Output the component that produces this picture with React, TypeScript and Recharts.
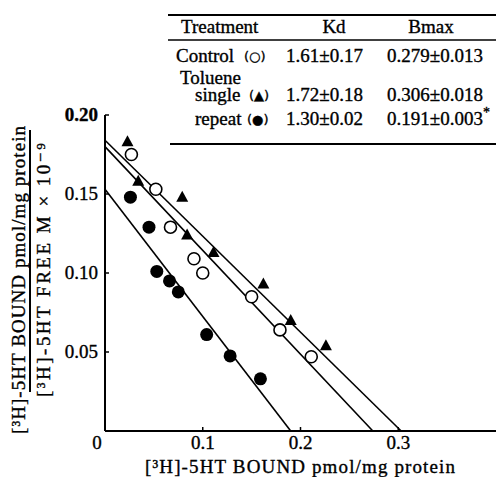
import React from "react";
import { ReferenceLine, Scatter, ScatterChart, XAxis, YAxis } from "recharts";

// control (open circles)
const controlX = [0.027, 0.052, 0.067, 0.091, 0.1, 0.15, 0.179, 0.211];
const controlY = [0.175, 0.153, 0.129, 0.109, 0.1, 0.085, 0.064, 0.047];
// toluene single (triangles)
const singleX = [0.023, 0.034, 0.079, 0.084, 0.111, 0.162, 0.19, 0.226];
const singleY = [0.183, 0.158, 0.148, 0.124, 0.113, 0.093, 0.07, 0.054];
// toluene repeat (filled circles)
const repeatX = [0.026, 0.045, 0.053, 0.066, 0.075, 0.104, 0.128, 0.159];
const repeatY = [0.148, 0.129, 0.101, 0.095, 0.088, 0.061, 0.0475, 0.033];

// regression lines: y at x=0 and x at y=0
const fitNames = ["control", "single", "repeat"];
const fitYIntercept = [0.18, 0.184, 0.153];
const fitXIntercept = [0.274, 0.303, 0.19];

const xTicks = [0, 0.1, 0.2, 0.3];
const yTicks = [0.05, 0.1, 0.15, 0.2];

const tableHeader = ["Treatment", "Kd", "Bmax"];
const tableKd = ["1.61±0.17", "1.72±0.18", "1.30±0.02"];
const tableBmax = ["0.279±0.013", "0.306±0.018", "0.191±0.003"];
const tableSymbols = ["○", "▲", "●"];

const W = 496;
const H = 477;
const FONT = "'Liberation Serif', 'DejaVu Serif', serif";
const SYMFONT = "'DejaVu Sans', sans-serif";

const toPoints = (xs: number[], ys: number[]) => xs.map((x, i) => ({ x, y: ys[i] }));

const OpenCircle = (p: any) => (
  <circle cx={p.cx} cy={p.cy} r={6} fill="#fff" stroke="#000" strokeWidth={1.6} />
);
const FilledCircle = (p: any) => <circle cx={p.cx} cy={p.cy} r={6.5} fill="#000" />;
const Triangle = (p: any) => (
  <path
    d={`M${p.cx},${p.cy - 6.5} L${p.cx + 6},${p.cy + 4.5} L${p.cx - 6},${p.cy + 4.5} Z`}
    fill="#000"
  />
);

const ink = { fill: "#000", stroke: "#000", strokeWidth: 0.35 };

const XTick = (props: any) => {
  const { x, y, payload } = props;
  const v = payload.value;
  return (
    <g>
      {v !== 0 && <line x1={x} x2={x} y1={y} y2={y - 4} stroke="#000" strokeWidth={1.5} />}
      <text
        x={v === 0 ? x - 8 : x}
        y={y + 18}
        textAnchor="middle"
        fontFamily={FONT}
        fontSize={19}
        {...ink}
      >
        {v === 0 ? "0" : v.toFixed(1)}
      </text>
    </g>
  );
};

const YTick = (props: any) => {
  const { x, y, payload } = props;
  return (
    <g>
      <line x1={x} x2={x + 4} y1={y} y2={y} stroke="#000" strokeWidth={1.5} />
      <text
        x={x - 7}
        y={y + 6}
        textAnchor="end"
        fontFamily={FONT}
        fontSize={19}
        fontWeight={payload.value === 0.2 ? "bold" : "normal"}
        {...ink}
      >
        {payload.value.toFixed(2)}
      </text>
    </g>
  );
};

function Overlay() {
  const t = { fontFamily: FONT, fontSize: 19, ...ink };
  const rowY = [62, 101, 125];
  const symX = [244, 249, 247];
  return (
    <svg
      width={W}
      height={H}
      style={{ position: "absolute", left: 0, top: 0, pointerEvents: "none" }}
    >
      {/* table */}
      <line x1={168} x2={496} y1={15} y2={15} stroke="#000" strokeWidth={2} />
      <text x={181} y={33} {...t}>{tableHeader[0]}</text>
      <text x={334} y={33} textAnchor="middle" {...t}>{tableHeader[1]}</text>
      <text x={431} y={33} textAnchor="middle" {...t}>{tableHeader[2]}</text>
      <line x1={168} x2={496} y1={40} y2={40} stroke="#000" strokeWidth={1.5} />

      <text x={176} y={rowY[0]} {...t}>Control</text>
      <text x={180} y={84} {...t}>
        Toluene
        <tspan x={195} dy={17}>single</tspan>
      </text>
      <text x={195} y={rowY[2]} {...t}>repeat</text>
      {tableSymbols.map((s, i) => (
        <text key={"sym" + i} x={symX[i]} y={rowY[i] - 1} fontFamily={SYMFONT} fontSize={13} {...ink}>
          ({s})
        </text>
      ))}

      {tableKd.map((s, i) => (
        <text key={"kd" + i} x={286} y={rowY[i]} {...t}>{s}</text>
      ))}
      {tableBmax.map((s, i) => (
        <text key={"bm" + i} x={387} y={rowY[i]} {...t}>
          {s}
          {i === 2 && (
            <tspan dy={-8} fontSize={14}>
              *
            </tspan>
          )}
        </text>
      ))}
      <line x1={170} x2={496} y1={144} y2={144} stroke="#000" strokeWidth={2} />

      {/* y axis label as a fraction */}
      <text
        transform="translate(18,280) rotate(-90)"
        textAnchor="middle"
        dominantBaseline="central"
        textLength={308}
        lengthAdjust="spacing"
        {...t}
      >
        [³H]-5HT BOUND pmol/mg protein
      </text>
      <line x1={30} x2={30} y1={130} y2={392} stroke="#000" strokeWidth={2} />
      <text
        transform="translate(43,270) rotate(-90)"
        textAnchor="middle"
        dominantBaseline="central"
        textLength={254}
        lengthAdjust="spacing"
        {...t}
      >
        [³H]-5HT FREE M × 10⁻⁹
      </text>

      {/* x axis label */}
      <text
        x={300}
        y={473}
        textAnchor="middle"
        textLength={310}
        lengthAdjust="spacing"
        {...t}
      >
        [³H]-5HT BOUND pmol/mg protein
      </text>
    </svg>
  );
}

export default function App() {
  return (
    <div style={{ position: "absolute", left: 0, top: 0, width: W, height: H, background: "#fff" }}>
      <ScatterChart width={W} height={H} margin={{ top: 115, right: 0, bottom: 0, left: 0 }}>
        <XAxis
          type="number"
          dataKey="x"
          domain={[0, 0.4]}
          ticks={xTicks}
          interval={0}
          height={46}
          tickSize={0}
          tickMargin={0}
          tickLine={false}
          axisLine={{ stroke: "#000", strokeWidth: 2 }}
          tick={<XTick />}
        />
        <YAxis
          type="number"
          dataKey="y"
          domain={[0, 0.2]}
          ticks={yTicks}
          interval={0}
          width={105}
          tickSize={0}
          tickMargin={0}
          tickLine={false}
          axisLine={{ stroke: "#000", strokeWidth: 2 }}
          tick={<YTick />}
        />
        {fitNames.map((n, i) => (
          <ReferenceLine
            key={n}
            segment={[
              { x: 0, y: fitYIntercept[i] },
              { x: fitXIntercept[i], y: 0 },
            ]}
            stroke="#000"
            strokeWidth={1.6}
          />
        ))}
        <Scatter
          name="control"
          data={toPoints(controlX, controlY)}
          shape={OpenCircle}
          isAnimationActive={false}
        />
        <Scatter
          name="single"
          data={toPoints(singleX, singleY)}
          shape={Triangle}
          isAnimationActive={false}
        />
        <Scatter
          name="repeat"
          data={toPoints(repeatX, repeatY)}
          shape={FilledCircle}
          isAnimationActive={false}
        />
      </ScatterChart>
      <Overlay />
    </div>
  );
}
